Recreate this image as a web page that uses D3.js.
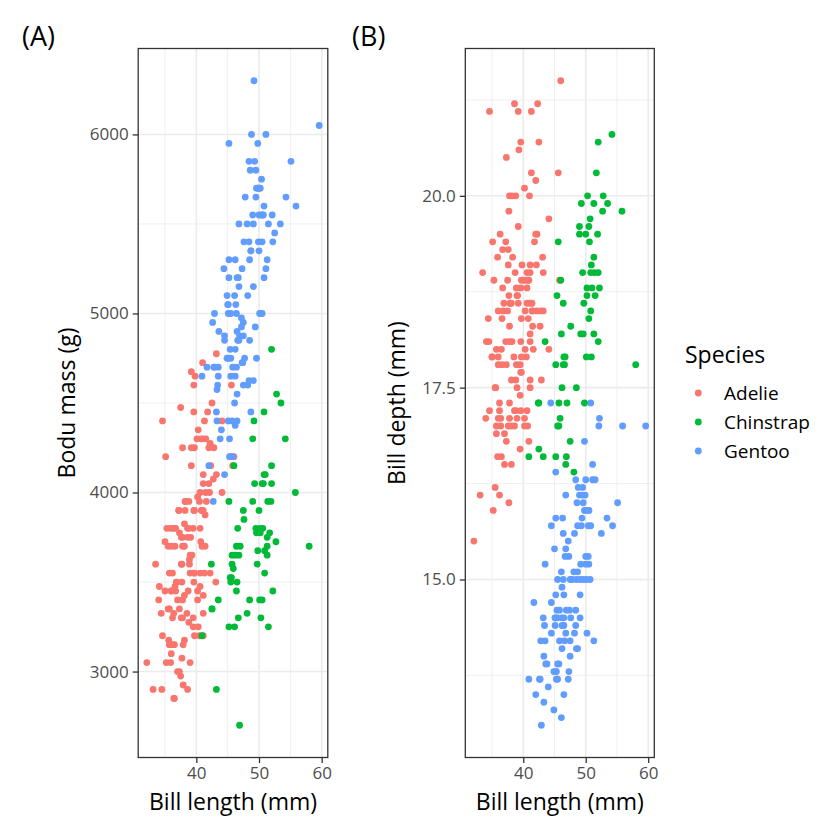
<!DOCTYPE html>
<html><head><meta charset="utf-8">
<script src="https://cdn.jsdelivr.net/npm/d3@7"></script>
<style>body{margin:0;background:#fff}svg{display:block;font-family:'Open Sans',sans-serif}</style>
</head><body><svg id="c" width="840" height="840"></svg>
<script>
const species = ["Adelie", "Chinstrap", "Gentoo"];
const speciesColors = ["#F8766D", "#00BA38", "#619CFF"];

const adelieBillLength = [39.1,39.5,40.3,36.7,39.3,38.9,39.2,34.1,42.0,37.8,37.8,41.1,38.6,34.6,36.6,38.7,42.5,34.4,46.0,37.8,37.7,35.9,38.2,38.8,35.3,40.6,40.5,37.9,40.5,39.5,37.2,39.5,40.9,36.4,39.2,38.8,42.2,37.6,39.8,36.5,40.8,36.0,44.1,37.0,39.6,41.1,37.5,36.0,42.3,39.6,40.1,35.0,42.0,34.5,41.4,39.0,40.6,36.5,37.6,35.7,41.3,37.6,41.1,36.4,41.6,35.5,41.1,35.9,41.8,33.5,39.7,39.6,45.8,35.5,42.8,40.9,37.2,36.2,42.1,34.6,42.9,36.7,35.1,37.3,41.3,36.3,36.9,38.3,38.9,35.7,41.1,34.0,39.6,36.2,40.8,38.1,40.3,33.1,43.2,35.0,41.0,37.7,37.8,37.9,39.7,38.6,38.2,38.1,43.2,38.1,45.6,39.7,42.2,39.6,42.7,38.6,37.3,35.7,41.1,36.2,37.7,40.2,41.4,35.2,40.6,38.8,41.5,39.0,44.1,38.5,43.1,36.8,37.5,38.1,41.1,35.6,40.2,37.0,39.7,40.2,40.6,32.1,40.7,37.3,39.0,39.2,36.6,36.0,37.8,36.0,41.5];
const adelieBillDepth = [18.7,17.4,18.0,19.3,20.6,17.8,19.6,18.1,20.2,17.1,17.3,17.6,21.2,21.1,17.8,19.0,20.7,18.4,21.5,18.3,18.7,19.2,18.1,17.2,18.9,18.6,17.9,18.6,18.9,16.7,18.1,17.8,18.9,17.0,21.1,20.0,18.5,19.3,19.1,18.0,18.4,18.5,19.7,16.9,18.8,19.0,18.9,17.9,21.2,17.7,18.9,17.9,19.5,18.1,18.6,17.5,18.8,16.6,19.1,16.9,21.1,17.0,18.2,17.1,18.0,16.2,19.1,16.6,19.4,19.0,18.4,17.2,18.9,17.5,18.5,16.8,19.4,16.1,19.1,17.2,17.6,18.8,19.4,17.8,20.3,19.5,18.6,19.2,18.8,18.0,18.1,17.1,18.1,17.3,18.9,18.6,18.5,16.1,18.5,17.9,20.0,16.0,20.0,18.6,18.9,17.2,20.0,17.0,19.0,16.5,20.3,17.7,19.5,20.7,18.3,17.0,20.5,17.0,18.6,17.2,19.8,17.0,18.5,15.9,19.0,17.6,18.3,17.1,18.0,17.9,19.2,18.5,18.5,17.6,17.5,17.5,20.1,16.5,17.9,17.1,17.2,15.5,17.0,16.8,18.7,18.6,18.4,17.8,18.1,17.1,18.5];
const adelieBodyMass = [3750,3800,3250,3450,3650,3625,4675,3475,4250,3300,3700,3200,3800,4400,3700,3450,4500,3325,4200,3400,3600,3800,3950,3800,3800,3550,3200,3150,3950,3250,3900,3300,3900,3325,4150,3950,3550,3300,4650,3150,3900,3100,4400,3000,4600,3425,2975,3450,4150,3500,4300,3450,4050,2900,3700,3550,3800,2850,3750,3150,4400,3600,4050,2850,3950,3350,4100,3050,4450,3600,3900,3550,4150,3700,4250,3700,3900,3550,4000,3200,4700,3800,4200,3350,3550,3800,3500,3950,3600,3550,4300,3400,4450,3300,4300,3700,4350,2900,4100,3725,4725,3075,4250,2925,3550,3750,3900,3175,4775,3825,4600,3200,4275,3900,4075,2900,3775,3350,3325,3150,3500,3450,3875,3050,4000,3275,4300,3050,4000,3325,3500,3500,4475,3425,3900,3175,3975,3400,4250,3400,3475,3050,3725,3000,3650,4250,3475,3450,3750,3700,4000];

const gentooBillLength = [46.1,50.0,48.7,50.0,47.6,46.5,45.4,46.7,43.3,46.8,40.9,49.0,45.5,48.4,45.8,49.3,42.0,49.2,46.2,48.7,50.2,45.1,46.5,46.3,42.9,46.1,44.5,47.8,48.2,50.0,47.3,42.8,45.1,59.6,49.1,48.4,42.6,44.4,44.0,48.7,42.7,49.6,45.3,49.6,50.5,43.6,45.5,50.5,44.9,45.2,46.6,48.5,45.1,50.1,46.5,45.0,43.8,45.5,43.2,50.4,45.3,46.2,45.7,54.3,45.8,49.8,46.2,49.5,43.5,50.7,47.7,46.4,48.2,46.5,46.4,48.6,47.5,51.1,45.2,45.2,49.1,52.5,47.4,50.0,44.9,50.8,43.4,51.3,47.5,52.1,47.5,52.2,45.5,49.5,44.5,50.8,49.4,46.9,48.4,51.1,48.5,55.9,47.2,49.1,47.3,46.8,41.7,53.4,43.3,48.1,50.5,49.8,43.5,51.5,46.2,55.1,44.5,48.8,47.2,46.8,50.4,45.2,49.9];
const gentooBillDepth = [13.2,16.3,14.1,15.2,14.5,13.5,14.6,15.3,13.4,15.4,13.7,16.1,13.7,14.6,14.6,15.7,13.5,15.2,14.5,15.1,14.3,14.5,14.5,15.8,13.1,15.1,14.3,15.0,14.3,15.3,15.3,14.2,14.5,17.0,14.8,16.3,13.7,17.3,13.6,15.7,13.7,16.0,13.7,15.0,15.9,13.9,13.9,15.9,13.3,15.8,14.2,14.1,14.4,15.0,14.4,15.4,13.9,15.0,14.5,15.3,13.8,14.9,13.9,15.7,14.2,16.8,14.4,16.2,14.2,15.0,15.0,15.6,15.6,14.8,15.0,16.0,14.2,16.3,13.8,16.4,14.5,15.6,14.6,15.9,13.8,17.3,14.4,14.2,14.0,17.0,15.0,17.1,14.5,16.1,14.7,15.7,15.8,14.6,14.4,16.5,15.0,17.0,15.5,15.0,13.8,16.1,14.7,15.8,14.0,15.1,15.2,15.9,15.2,16.3,14.1,16.0,15.7,16.2,13.7,14.3,15.7,14.8,16.1];
const gentooBodyMass = [4500,5700,4450,5700,5400,4550,4800,5200,4400,5150,4650,5550,4650,5850,4200,5850,4150,6300,4800,5350,5700,5000,4400,5050,5000,5100,4100,5650,4600,5550,5250,4700,5050,6050,5150,5400,4950,5250,4350,5350,3950,5700,4300,4750,5550,4900,4200,5400,5100,5300,4850,5300,4400,5000,4900,5050,4300,5000,4450,5550,4200,5300,4400,5650,4700,5700,4650,5800,4700,5550,4750,5000,5100,5200,4700,5800,4600,6000,4750,5950,4625,5450,4725,5350,4750,5600,4600,5300,4875,5550,4950,5400,4750,5650,4850,5200,4925,4875,4625,5250,4850,5600,4975,5500,4725,5500,4700,5500,4575,5500,5000,5950,4650,5500,4375,5850,4875,6000,4925,4850,5750,5200,5400];

const chinstrapBillLength = [46.5,50.0,51.3,45.4,52.7,45.2,46.1,51.3,46.0,51.3,46.6,51.7,47.0,52.0,45.9,50.5,50.3,58.0,46.4,49.2,42.4,48.5,43.2,50.6,46.7,52.0,50.5,49.5,46.4,52.8,40.9,54.2,42.5,51.0,49.7,47.5,47.6,52.0,46.9,53.5,49.0,46.2,50.9,45.5,50.9,50.8,50.1,49.0,51.5,49.8,48.1,51.4,45.7,50.7,42.5,52.2,45.2,49.3,50.2,45.6,51.9,46.8,45.7,55.8,43.5,49.6,50.8,50.2];
const chinstrapBillDepth = [17.9,19.5,19.2,18.7,19.8,17.8,18.2,18.2,18.9,19.9,17.8,20.3,17.3,18.1,17.1,19.6,20.0,17.8,18.6,18.2,17.3,17.5,16.6,19.4,17.9,19.0,18.4,19.0,17.8,20.0,16.6,20.8,16.7,18.8,18.6,16.8,18.3,20.7,16.6,19.9,19.5,17.5,19.1,17.0,17.9,18.5,17.9,19.6,18.7,17.3,16.4,19.0,17.3,19.7,17.3,18.8,16.6,19.9,18.8,19.4,19.5,16.5,17.0,19.8,18.1,18.2,19.0,18.7];
const chinstrapBodyMass = [3500,3900,3650,3525,3725,3950,3250,3750,4150,3700,3800,3775,3700,4050,3575,4050,3300,3700,3450,4400,3600,3400,2900,3800,3300,4150,3400,3800,3700,4550,3200,4300,3350,4100,3600,3900,3850,4800,2700,4500,3950,3650,3550,3500,3675,4450,3400,4300,3250,3675,3325,3950,3600,4050,3350,3450,3250,4050,3800,3525,3950,3650,3650,4000,3400,3775,4100,3775];

const tickA_x = [40, 50, 60];
const tickA_y = [3000, 4000, 5000, 6000];
const tickB_y = [15.0, 17.5, 20.0];
const minorA_x = [35, 45, 55];
const minorA_y = [3500, 4500, 5500];
const minorB_y = [13.75, 16.25, 18.75, 21.25];

// Build per-penguin records (draw order: Adelie, Gentoo, Chinstrap = dataset order)
function rows(sp, L, D, M) { return L.map((l, i) => ({ species: sp, len: l, depth: D[i], mass: M[i] })); }
const penguins = [].concat(
  rows("Adelie", adelieBillLength, adelieBillDepth, adelieBodyMass),
  rows("Gentoo", gentooBillLength, gentooBillDepth, gentooBodyMass),
  rows("Chinstrap", chinstrapBillLength, chinstrapBillDepth, chinstrapBodyMass)
);
const color = d3.scaleOrdinal().domain(species).range(speciesColors);

function expand(ext) { const p = (ext[1] - ext[0]) * 0.05; return [ext[0] - p, ext[1] + p]; }
const xDom = expand(d3.extent(penguins, d => d.len));
const yDomA = expand(d3.extent(penguins, d => d.mass));
const yDomB = expand(d3.extent(penguins, d => d.depth));

const plotTop = 48.5, plotBottom = 757.5;
const svg = d3.select("#c");

function panel(opts) {
  const x = d3.scaleLinear().domain(xDom).range([opts.x0, opts.x1]);
  const y = d3.scaleLinear().domain(opts.yDom).range([plotBottom, plotTop]);
  const g = svg.append("g");
  g.append("rect").attr("x", opts.x0).attr("y", plotTop).attr("width", opts.x1 - opts.x0).attr("height", plotBottom - plotTop).attr("fill", "#fff");
  g.selectAll(".mx").data(opts.minorX).join("line").attr("class","mx").attr("x1", d => x(d)).attr("x2", d => x(d)).attr("y1", plotTop).attr("y2", plotBottom).attr("stroke", "#EBEBEB").attr("stroke-width", 0.8);
  g.selectAll(".my").data(opts.minorY).join("line").attr("class","my").attr("y1", d => y(d)).attr("y2", d => y(d)).attr("x1", opts.x0).attr("x2", opts.x1).attr("stroke", "#EBEBEB").attr("stroke-width", 0.8);
  g.selectAll(".Mx").data(opts.ticksX).join("line").attr("class","Mx").attr("x1", d => x(d)).attr("x2", d => x(d)).attr("y1", plotTop).attr("y2", plotBottom).attr("stroke", "#EBEBEB").attr("stroke-width", 1.6);
  g.selectAll(".My").data(opts.ticksY).join("line").attr("class","My").attr("y1", d => y(d)).attr("y2", d => y(d)).attr("x1", opts.x0).attr("x2", opts.x1).attr("stroke", "#EBEBEB").attr("stroke-width", 1.6);
  g.selectAll(".pt").data(penguins).join("circle").attr("class","pt")
    .attr("cx", d => x(d.len)).attr("cy", d => y(d[opts.yKey])).attr("r", 3.4)
    .attr("fill", d => color(d.species));
  g.append("rect").attr("x", opts.x0).attr("y", plotTop).attr("width", opts.x1 - opts.x0).attr("height", plotBottom - plotTop)
    .attr("fill", "none").attr("stroke", "#333333").attr("stroke-width", 1.3);
  const ax = g.append("g").attr("transform", `translate(0,${plotBottom})`)
    .call(d3.axisBottom(x).tickValues(opts.ticksX).tickSize(5.5).tickPadding(4));
  const ay = g.append("g").attr("transform", `translate(${opts.x0},0)`)
    .call(d3.axisLeft(y).tickValues(opts.ticksY).tickFormat(opts.yFmt).tickSize(5.5).tickPadding(4));
  [ax, ay].forEach(a => {
    a.select(".domain").remove();
    a.selectAll(".tick line").attr("stroke", "#333333").attr("stroke-width", 1.3);
    a.selectAll(".tick text").attr("fill", "#4D4D4D").attr("font-size", 17).attr("font-family", "'Open Sans',sans-serif");
  });
  g.append("text").attr("x", (opts.x0 + opts.x1) / 2).attr("y", 810).attr("text-anchor", "middle")
    .attr("font-size", 23).attr("fill", "#000").text("Bill length (mm)");
  g.append("text").attr("transform", `translate(${opts.yTitleX},${(plotTop + plotBottom) / 2}) rotate(-90)`)
    .attr("text-anchor", "middle").attr("font-size", 23).attr("fill", "#000").text(opts.yTitle);
  svg.append("text").attr("x", opts.tagX).attr("y", 46).attr("font-size", 27).attr("fill", "#000").text(opts.tag);
}

panel({ x0: 138.2, x1: 327.8, yDom: yDomA, yKey: "mass", ticksX: tickA_x, ticksY: tickA_y, minorX: minorA_x, minorY: minorA_y,
  yFmt: d3.format("d"), yTitle: "Bodu mass (g)", yTitleX: 75, tag: "(A)", tagX: 22 });
panel({ x0: 465.3, x1: 654.3, yDom: yDomB, yKey: "depth", ticksX: tickA_x, ticksY: tickB_y, minorX: minorA_x, minorY: minorB_y,
  yFmt: d3.format(".1f"), yTitle: "Bill depth (mm)", yTitleX: 405, tag: "(B)", tagX: 352 });

const lg = svg.append("g");
lg.append("text").attr("x", 685).attr("y", 363).attr("font-size", 23).attr("fill", "#000").text("Species");
species.forEach((s, i) => {
  const cy = 393 + i * 29;
  lg.append("circle").attr("cx", 698.3).attr("cy", cy).attr("r", 3.4).attr("fill", color(s));
  lg.append("text").attr("x", 724).attr("y", cy + 7).attr("font-size", 19).attr("fill", "#000").text(s);
});
</script></body></html>
